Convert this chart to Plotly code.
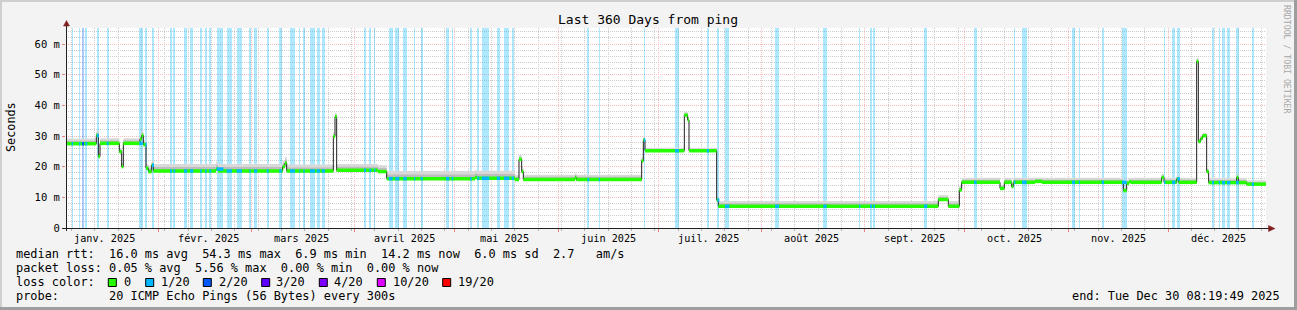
import numpy as np
import pandas as pd
import plotly.graph_objects as go

# ---------------- data ----------------
END = pd.Timestamp("2025-12-30 08:19:49")
SPAN_DAYS = 360
START = END - pd.Timedelta(days=SPAN_DAYS)

# median rtt (ms) step changes, day offset since START
med_day = [0.0, 9.1, 9.7, 10.2, 16.0, 16.7, 17.2, 22.2, 22.7, 23.2, 24.0, 24.7, 25.7, 26.2,
           45.0, 45.6, 65.0, 65.7, 66.2, 80.2, 80.7, 81.2, 93.6, 96.2, 122.7, 123.3,
           134.7, 135.9, 136.7, 137.2, 152.7, 153.1, 172.7, 173.2, 173.7, 185.5, 186.5, 186.9,
           195.2, 195.7, 261.7, 264.7, 268.0, 268.7, 280.2, 281.5, 283.7, 284.2, 290.7, 292.8,
           317.2, 318.2, 318.9, 319.5, 328.7, 329.4, 333.2, 333.8, 339.2, 339.7, 340.4, 341.0,
           342.2, 342.8, 351.2, 351.7, 354.2]
med_ms = [27.5, 30.2, 23.3, 27.6, 24.9, 20.0, 27.6, 29.0, 30.2, 27.2, 19.5, 18.4, 20.5, 18.6,
          19.2, 18.6, 20.0, 21.2, 18.6, 29.8, 36.3, 18.8, 18.4, 16.1, 16.5, 16.2,
          15.8, 22.4, 18.4, 15.8, 16.5, 15.8, 21.9, 28.7, 25.2, 36.8, 35.2, 25.2,
          9.1, 7.1, 9.3, 7.1, 12.4, 14.9, 12.9, 14.9, 13.5, 14.9, 15.2, 14.9,
          12.2, 14.6, 15.1, 14.9, 16.5, 14.9, 16.0, 14.9, 54.3, 28.2, 29.2, 30.1,
          18.4, 14.8, 16.5, 14.8, 14.3]
# smoke spread above the median (ms)
smoke_ms = [1.7, 1.4, 1.2, 1.7, 1.2, 1.2, 1.7, 1.6, 1.6, 1.4, 1.4, 2.0, 1.6, 2.3,
            2.3, 2.3, 2.0, 2.0, 2.1, 1.4, 1.2, 2.1, 2.1, 2.5, 2.3, 2.5,
            1.6, 1.4, 1.4, 1.6, 1.4, 1.6, 1.2, 1.2, 1.0, 1.0, 1.0, 1.0,
            1.0, 1.7, 1.4, 1.7, 1.4, 1.5, 1.2, 1.5, 1.2, 1.5, 1.2, 1.5,
            1.2, 1.2, 1.2, 1.5, 1.2, 1.5, 1.2, 1.5, 1.2, 1.0, 1.0, 1.0,
            1.0, 1.5, 1.2, 1.5, 1.3]

# packet loss periods (day offsets since START) and loss class index
loss_start = [1.7, 3.9, 4.8, 5.8, 9.3, 12.2, 22.0, 23.8, 25.8, 31.2, 32.2, 35.4, 37.2, 40.2,
              41.7, 43.0, 45.2, 48.2, 51.2, 55.0, 56.4, 60.2, 64.0, 67.2, 70.0, 71.2, 73.2,
              75.2, 76.7, 89.4, 91.0, 92.4, 96.8, 98.8, 101.2, 104.4, 106.4, 114.0, 115.7,
              121.2, 123.4, 124.7, 129.2, 131.4, 133.7, 156.4, 159.8, 173.4, 182.7, 192.2,
              195.4, 197.7, 212.7, 227.2, 237.9, 241.2, 242.2, 257.4, 272.4, 284.4, 286.8,
              301.8, 303.8, 310.7, 316.8, 329.4, 331.8, 333.4, 343.8, 345.8, 346.8, 348.3,
              351.0, 355.7]
loss_end = [2.2, 4.3, 5.4, 6.4, 9.9, 12.8, 23.0, 24.2, 26.4, 31.8, 32.8, 36.4, 38.2, 40.7,
            42.2, 43.6, 47.2, 49.8, 52.8, 55.4, 57.4, 60.8, 64.7, 68.7, 70.3, 71.6, 74.7,
            76.2, 77.7, 90.0, 91.6, 92.8, 98.0, 100.0, 102.2, 104.8, 107.0, 115.0, 116.2,
            121.7, 124.0, 127.0, 130.2, 133.0, 134.4, 157.0, 160.2, 173.8, 183.9, 192.9,
            196.0, 199.0, 213.9, 228.2, 238.3, 241.8, 242.7, 258.4, 273.2, 284.8, 288.2,
            302.7, 304.2, 311.4, 318.2, 329.8, 332.8, 334.2, 344.4, 346.2, 347.7, 349.3,
            351.8, 356.4]
loss_level = [1, 1, 2] + [1] * 71

loss_labels = ["0", "1/20", "2/20", "3/20", "4/20", "10/20", "19/20"]
loss_colors = ["#26ff00", "#00b8ff", "#0059ff", "#5e00ff", "#7e00ff", "#dd00ff", "#ff0000"]

month_labels = ["janv. 2025", "févr. 2025", "mars 2025", "avril 2025", "mai 2025", "juin 2025",
                "juil. 2025", "août 2025", "sept. 2025", "oct. 2025", "nov. 2025", "déc. 2025"]
y_ticks = [0, 10, 20, 30, 40, 50, 60]
y_ticktext = ["0", "10 m", "20 m", "30 m", "40 m", "50 m", "60 m"]

title = "Last 360 Days from ping"
stat_rtt = "median rtt:  16.0 ms avg  54.3 ms max  6.9 ms min  14.2 ms now  6.0 ms sd  2.7   am/s"
stat_loss = "packet loss: 0.05 % avg  5.56 % max  0.00 % min  0.00 % now"
probe_txt = "probe:       20 ICMP Echo Pings (56 Bytes) every 300s"
end_txt = "end: Tue Dec 30 08:19:49 2025"

# ---------------- geometry helpers (layout only) ----------------
W, H = 1297, 310
L, R, T, B = 66, 31, 28, 82
PW, PH = W - L - R, H - T - B
YTOP = 65.22
MONO = "DejaVu Sans Mono"


def PX(x):
    return (x - L) / PW


def PY(y):
    return (T + PH - y) / PH


def nb(s):
    return s.replace(" ", "\u00a0")


def tdate(d):
    return (START + pd.Timedelta(days=float(d))).to_pydatetime()


def rgba(hexc, a):
    h = hexc.lstrip("#")
    return "rgba(%d,%d,%d,%.2f)" % (int(h[0:2], 16), int(h[2:4], 16), int(h[4:6], 16), a)


fig = go.Figure()

# loss background bars
ls = np.array(loss_start)
le = np.array(loss_end)
fig.add_trace(go.Bar(
    x=[tdate(v) for v in (ls + le) / 2], y=[YTOP] * len(ls),
    width=list((le - ls) * 86400000.0),
    marker=dict(color=[rgba(loss_colors[k], 0.32) for k in loss_level], line=dict(width=0)),
    hoverinfo="skip"))

# step arrays
sx = [tdate(d) for d in med_day] + [tdate(SPAN_DAYS)]
sy = med_ms + [med_ms[-1]]
sm = smoke_ms + [smoke_ms[-1]]

lo = [v - 0.45 for v in sy]
hi_out = [v + s for v, s in zip(sy, sm)]
hi_in = [v + 0.55 * s for v, s in zip(sy, sm)]

fig.add_trace(go.Scatter(x=sx, y=lo, mode="lines", line=dict(width=0, shape="hv"), hoverinfo="skip"))
fig.add_trace(go.Scatter(x=sx, y=hi_out, mode="lines", line=dict(width=0, shape="hv"),
                         fill="tonexty", fillcolor="#d9d9d9", hoverinfo="skip"))
fig.add_trace(go.Scatter(x=sx, y=lo, mode="lines", line=dict(width=0, shape="hv"), hoverinfo="skip"))
fig.add_trace(go.Scatter(x=sx, y=hi_in, mode="lines", line=dict(width=0, shape="hv"),
                         fill="tonexty", fillcolor="#bdbdbd", hoverinfo="skip"))

# black median line (verticals show)
fig.add_trace(go.Scatter(x=sx, y=sy, mode="lines", line=dict(color="#202020", width=1, shape="hv"),
                         hoverinfo="skip"))

# green horizontal pieces
gx, gy = [], []
for i in range(len(med_day)):
    gx += [sx[i], sx[i + 1], None]
    gy += [sy[i], sy[i], None]
fig.add_trace(go.Scatter(x=gx, y=gy, mode="lines", line=dict(color=loss_colors[0], width=3.5),
                         hoverinfo="skip"))

# loss-coloured pieces of the median
md = np.array(med_day)
for lev in sorted(set(loss_level)):
    cx, cy = [], []
    for s, e, k in zip(loss_start, loss_end, loss_level):
        if k != lev:
            continue
        idx = int(np.searchsorted(md, s, side="right") - 1)
        v = med_ms[idx]
        cx += [tdate(s), tdate(e), None]
        cy += [v, v, None]
    fig.add_trace(go.Scatter(x=cx, y=cy, mode="lines", line=dict(color=loss_colors[lev], width=3.5),
                             hoverinfo="skip"))

month_starts = pd.date_range("2025-02-01", "2025-12-01", freq="MS")
label_pos = pd.date_range("2025-01-01", "2025-12-01", freq="MS") + pd.Timedelta(days=15)

MGRID = "#f7bcbc"
GRID = "#cdcdcd"

fig.update_layout(
    width=W, height=H,
    margin=dict(l=L, r=R, t=T, b=B, autoexpand=False),
    paper_bgcolor="#f3f3f3", plot_bgcolor="#ffffff",
    showlegend=False, barmode="overlay", bargap=0,
    font=dict(family=MONO, size=10, color="#000000"),
    xaxis=dict(type="date", range=[START.to_pydatetime(), END.to_pydatetime()],
               tickmode="array", tickvals=list(month_starts), showticklabels=False,
               showgrid=True, gridcolor=MGRID, griddash="1px,1px", gridwidth=1,
               ticks="outside", ticklen=3, tickcolor="#e88080",
               minor=dict(dtick=7 * 86400000, tick0="2025-01-06", showgrid=True,
                          gridcolor=GRID, griddash="1px,1px", gridwidth=1,
                          ticks="outside", ticklen=2, tickcolor="#b0b0b0"),
               zeroline=False, showline=False, fixedrange=True),
    yaxis=dict(range=[0, YTOP], tickmode="array", tickvals=y_ticks, ticktext=y_ticktext,
               showgrid=True, gridcolor=MGRID, griddash="1px,1px", gridwidth=1,
               ticks="outside", ticklen=3, tickcolor="#e88080",
               minor=dict(dtick=2, showgrid=True, gridcolor=GRID, griddash="1px,1px", gridwidth=1),
               tickfont=dict(family=MONO, size=10.5, color="#000"),
               zeroline=False, showline=False, fixedrange=True),
)

ann = []
for lab, pos in zip(month_labels, label_pos):
    ann.append(dict(x=pos.to_pydatetime(), xref="x", y=PY(238), yref="paper", text=nb(lab),
                    showarrow=False, xanchor="center", yanchor="middle",
                    font=dict(family=MONO, size=10.2, color="#000")))

ann.append(dict(x=PX(648), y=PY(19), xref="paper", yref="paper", text=nb(title), showarrow=False,
                xanchor="center", yanchor="middle", font=dict(family=MONO, size=13, color="#000")))
ann.append(dict(x=PX(11), y=PY(127), xref="paper", yref="paper", text="Seconds", showarrow=False,
                textangle=-90, xanchor="center", yanchor="middle",
                font=dict(family=MONO, size=11.8, color="#000")))
ann.append(dict(x=PX(1287), y=PY(59), xref="paper", yref="paper", text=nb("RRDTOOL / TOBI OETIKER"),
                showarrow=False, textangle=90, xanchor="center", yanchor="middle",
                font=dict(family=MONO, size=8.2, color="#a8a8a8")))

LEG = dict(family=MONO, size=11.9, color="#000")
for txt, yc in [(stat_rtt, 254.3), (stat_loss, 268.3), ("loss color:", 282.3), (probe_txt, 296.3)]:
    ann.append(dict(x=PX(14), y=PY(yc), xref="paper", yref="paper", text=nb(txt), showarrow=False,
                    xanchor="left", yanchor="middle", font=LEG))
ann.append(dict(x=PX(1282), y=PY(296.3), xref="paper", yref="paper", text=nb(end_txt),
                showarrow=False, xanchor="right", yanchor="middle", font=LEG))

box_px = [108.3, 145.7, 203.3, 261.7, 319.3, 377.3, 442.7]
txt_px = [121.5, 159.0, 216.6, 274.3, 332.3, 390.6, 455.6]
shapes = []
for lab, col, bx, tx in zip(loss_labels, loss_colors, box_px, txt_px):
    shapes.append(dict(type="rect", xref="paper", yref="paper", x0=PX(bx), x1=PX(bx + 8),
                       y0=PY(278.5), y1=PY(286.5), fillcolor=col, line=dict(color="#000", width=1)))
    ann.append(dict(x=PX(tx), y=PY(282.3), xref="paper", yref="paper", text=nb(lab), showarrow=False,
                    xanchor="left", yanchor="middle", font=LEG))

# axes lines and arrows
shapes.append(dict(type="line", xref="paper", yref="paper", x0=PX(66.5), x1=PX(66.5), y0=PY(231), y1=PY(25),
                   line=dict(color="#202020", width=1)))
shapes.append(dict(type="line", xref="paper", yref="paper", x0=PX(62), x1=PX(1270), y0=PY(228.5), y1=PY(228.5),
                   line=dict(color="#202020", width=1)))
shapes.append(dict(type="path", xref="paper", yref="paper",
                   path="M %f,%f L %f,%f L %f,%f Z" % (PX(63.5), PY(26), PX(66.5), PY(20.5), PX(69.5), PY(26)),
                   fillcolor="#7f1f1f", line=dict(color="#7f1f1f", width=0.5)))
shapes.append(dict(type="path", xref="paper", yref="paper",
                   path="M %f,%f L %f,%f L %f,%f Z" % (PX(1268.5), PY(225.5), PX(1275), PY(228.5), PX(1268.5), PY(231.5)),
                   fillcolor="#7f1f1f", line=dict(color="#7f1f1f", width=0.5)))
# frame
shapes.append(dict(type="rect", xref="paper", yref="paper", x0=PX(0), x1=PX(W), y0=PY(0), y1=PY(2),
                   fillcolor="#cfcfcf", line=dict(width=0)))
shapes.append(dict(type="rect", xref="paper", yref="paper", x0=PX(0), x1=PX(2), y0=PY(0), y1=PY(H),
                   fillcolor="#cfcfcf", line=dict(width=0)))
shapes.append(dict(type="rect", xref="paper", yref="paper", x0=PX(0), x1=PX(W), y0=PY(H - 3), y1=PY(H),
                   fillcolor="#9e9e9e", line=dict(width=0)))
shapes.append(dict(type="rect", xref="paper", yref="paper", x0=PX(W - 3), x1=PX(W), y0=PY(0), y1=PY(H),
                   fillcolor="#9e9e9e", line=dict(width=0)))

fig.update_layout(annotations=ann, shapes=shapes)
fig.write_html("out.html")
